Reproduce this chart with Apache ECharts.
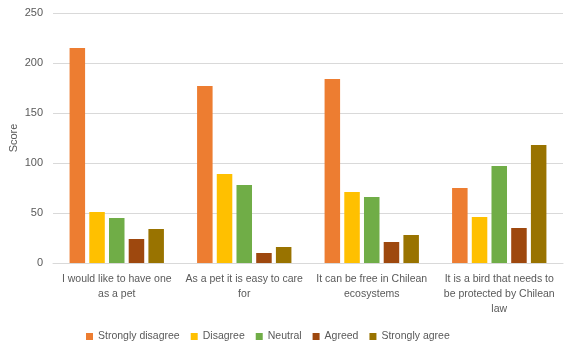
<!DOCTYPE html>
<html>
<head>
<meta charset="utf-8">
<script src="https://cdn.jsdelivr.net/npm/echarts@6/dist/echarts.min.js"></script>
<style>
  html, body { margin: 0; padding: 0; background: #fff; }
  #chart { width: 567px; height: 351px; }
</style>
</head>
<body>
<div id="chart"></div>
<script>
// categories (statements) and how they wrap under the axis
const categories = [
  'I would like to have one as a pet',
  'As a pet it is easy to care for',
  'It can be free in Chilean ecosystems',
  'It is a bird that needs to be protected by Chilean law',
];
const tickLabels = [
  'I would like to have one\nas a pet',
  'As a pet it is easy to care\nfor',
  'It can be free in Chilean\necosystems',
  'It is a bird that needs to\nbe protected by Chilean\nlaw',
];
const yTicks = [0, 50, 100, 150, 200, 250];

const stronglyDisagree = [215, 177, 184, 75];
const disagree = [51, 89, 71, 46];
const neutral = [45, 78, 66, 97];
const agreed = [24, 10, 21, 35];
const stronglyAgree = [34, 16, 28, 118];

const seriesDefs = [
  { name: 'Strongly disagree', data: stronglyDisagree, color: '#ED7D31' },
  { name: 'Disagree', data: disagree, color: '#FFC000' },
  { name: 'Neutral', data: neutral, color: '#70AD47' },
  { name: 'Agreed', data: agreed, color: '#9E480E' },
  { name: 'Strongly agree', data: stronglyAgree, color: '#997300' },
];

const textColor = '#595959';
const font = 'Liberation Sans';

const chart = echarts.init(document.getElementById('chart'), null, { renderer: 'canvas' });

chart.setOption({
  animation: false,
  grid: { left: 53, right: 4, top: 13, bottom: 88, outerBoundsMode: 'none' },
  legend: {
    bottom: 4,
    left: 81,
    itemWidth: 7,
    itemHeight: 7,
    itemGap: 11,
    icon: 'rect',
    textStyle: { color: textColor, fontSize: 10.5, fontFamily: font },
    data: seriesDefs.map(s => s.name),
  },
  xAxis: {
    type: 'category',
    data: categories,
    axisTick: { show: false },
    axisLine: { lineStyle: { color: '#d9d9d9' } },
    axisLabel: {
      color: textColor,
      fontSize: 10.5,
      fontFamily: font,
      lineHeight: 15,
      margin: 9,
      interval: 0,
      formatter: (v, i) => tickLabels[i],
    },
  },
  yAxis: {
    type: 'value',
    min: yTicks[0],
    max: yTicks[yTicks.length - 1],
    interval: 50,
    name: 'Score',
    nameLocation: 'middle',
    nameGap: 34,
    nameMoveOverlap: false,
    nameRotate: 90,
    nameTextStyle: { color: textColor, fontSize: 11, fontFamily: font },
    axisLine: { show: false },
    axisTick: { show: false },
    axisLabel: { color: textColor, fontSize: 11, fontFamily: font, margin: 10 },
    splitLine: { lineStyle: { color: '#d9d9d9' } },
  },
  series: seriesDefs.map(s => ({
    name: s.name,
    type: 'bar',
    data: s.data,
    barGap: '27%',
    barCategoryGap: '26%',
    itemStyle: { color: s.color },
  })),
});
</script>
</body>
</html>
